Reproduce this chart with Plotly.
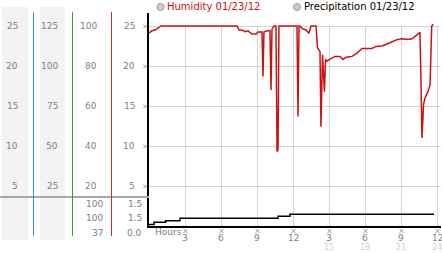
import plotly.graph_objects as go

W, H = 442, 253

# ---------------- data ----------------
hum_t = [0, 0.25, 0.5, 0.75, 1.0, 7.33, 7.5, 7.75, 8.0, 8.25, 8.58, 8.92, 9.08, 9.42, 9.5, 9.58,
         9.83, 10.08, 10.17, 10.25, 10.42, 10.58, 10.67, 10.75, 10.83, 12.33, 12.42, 12.5, 12.58,
         12.75, 13.08, 13.33, 13.5, 13.92, 14.04, 14.25, 14.33, 14.46, 14.62, 14.71, 14.83, 15.0,
         15.5, 15.92, 16.17, 16.42, 16.92, 17.33, 17.75, 18.0, 18.58, 18.92, 19.42, 20.08, 20.67,
         21.08, 21.58, 21.92, 22.42, 22.58, 22.67, 22.75, 22.88, 23.0, 23.25, 23.42, 23.56, 23.7]
hum_v = [24.1, 24.4, 24.5, 24.7, 25, 25, 24.5, 24.5, 24.3, 24.4, 24.0, 24.0, 24.25, 24.25, 18.7,
         24.25, 24.4, 24.4, 17.0, 24.6, 25, 25, 9.3, 9.5, 25, 25, 13.7, 25, 25, 24.7, 24.5, 24.1,
         25, 25, 22.3, 21.8, 12.4, 21.4, 16.8, 20.8, 20.6, 20.8, 21.2, 21.2, 20.8, 21.1, 21.2, 21.6,
         22.2, 22.2, 22.2, 22.45, 22.5, 22.9, 23.3, 23.4, 23.3, 23.4, 24.1, 24.2, 17.6, 11.0, 15.2,
         16.0, 16.8, 17.6, 25, 25.2]

prec_t = [0, 0.42, 1.39, 2.58, 10.75, 11.75, 23.75]
prec_v = [0.2, 0.46, 0.66, 0.96, 1.21, 1.46, 1.46]

y_ticks = [25, 20, 15, 10, 5]
col1_labels = ["25", "20", "15", "10", "5"]
col2_labels = ["125", "100", "75", "50", "25"]
col3_labels = ["100", "80", "60", "40", "20"]
col4_labels = ["25", "20", "15", "10", "5"]

stats_a = ["100", "100", "37"]
stats_b = ["1.5", "1.5", "0.0"]

x_ticks = [3, 6, 9, 12, 15, 18, 21, 24]
x_labels = ["3", "6", "9", "12", "3", "6", "9", "12"]
x_labels2 = ["", "", "", "", "15", "18", "21", "24"]

legend_items = ["Humidity 01/23/12", "Precipitation 01/23/12"]

# ---------------- helpers ----------------
def px(x):
    return x / W

def py(y):
    return 1 - y / H

X0, X1 = 149, 441
Y_TOP, Y_BOT = 13, 226
PPH = 12.0   # px per hour
PPU = 8.0    # px per unit
xr = [0, (X1 - X0) / PPH]
yr = [0, (Y_BOT - Y_TOP) / PPU]

GRAY_TXT = "#808080"
GRID = "#d4d4d4"
FONT = "DejaVu Sans"

SNAP_X = 0.5 / PPH   # half-pixel snap in data units for crisp 1px gridlines
SNAP_Y = 0.5 / PPU

def gx(t):          # hour -> pixel x
    return X0 + t * PPH + 0.5

def gy(v):          # value -> pixel y
    return Y_BOT - v * PPU + 0.5

fig = go.Figure()

# gridlines as line traces drawn before (beneath) the data lines
for v in y_ticks:
    fig.add_trace(go.Scatter(x=xr, y=[v - SNAP_Y, v - SNAP_Y], mode="lines",
                             line=dict(color=GRID, width=1), hoverinfo="skip", showlegend=False))
for t in x_ticks:
    fig.add_trace(go.Scatter(x=[t + SNAP_X, t + SNAP_X], y=[0, 25 - SNAP_Y], mode="lines",
                             line=dict(color=GRID, width=1), hoverinfo="skip", showlegend=False))

fig.add_trace(go.Scatter(x=prec_t, y=prec_v, mode="lines", line=dict(color="black", width=1.5, shape="hv"),
                         hoverinfo="skip", showlegend=False))
fig.add_trace(go.Scatter(x=hum_t, y=hum_v, mode="lines", line=dict(color="#cc1111", width=1.5),
                         hoverinfo="skip", showlegend=False))

shapes = []
# shaded label panels
for a, b in [(2, 28), (40, 65)]:
    shapes.append(dict(type="rect", xref="paper", yref="paper", x0=px(a), x1=px(b), y0=py(240), y1=py(7),
                       fillcolor="#f3f3f3", line=dict(width=0), layer="below"))
# horizontal separator in left panel
shapes.append(dict(type="line", xref="paper", yref="paper", x0=0, x1=px(X0), y0=py(197), y1=py(197),
                   line=dict(color="#a8a8a8", width=2)))
# coloured vertical separators
for xx, c in [(33.5, "#3399cc"), (72.5, "#33a033"), (111.5, "#c03030")]:
    shapes.append(dict(type="line", xref="paper", yref="paper", x0=px(xx), x1=px(xx), y0=py(236), y1=py(12),
                       line=dict(color=c, width=1)))
# legend circles
for cx in [160.5, 297]:
    shapes.append(dict(type="circle", xref="paper", yref="paper", x0=px(cx - 3.5), x1=px(cx + 3.5),
                       y0=py(10.5), y1=py(3.5), fillcolor="#cccccc", line=dict(color="#999999", width=1)))
# star tick marks (small x marks) next to the axes
for v in y_ticks:
    for dx, dy in [(-2, -2), (-2, 2)]:
        shapes.append(dict(type="line", xref="paper", yref="paper",
                           x0=px(145 + dx), x1=px(145 - dx), y0=py(gy(v) + dy),
                           y1=py(gy(v) - dy), line=dict(color="#999999", width=1)))
for t in x_ticks:
    for dx, dy in [(-2, -2), (-2, 2)]:
        shapes.append(dict(type="line", xref="paper", yref="paper",
                           x0=px(gx(t) + dx), x1=px(gx(t) - dx), y0=py(231 + dy),
                           y1=py(231 - dy), line=dict(color="#999999", width=1)))

ann = []
def label(text, xpx, y, yref="y", color=GRAY_TXT, size=9, xanchor="right", font=FONT, xref="paper"):
    ann.append(dict(text=text, x=(px(xpx) if xref == "paper" else xpx), xref=xref, y=y, yref=yref,
                    xanchor=xanchor, yanchor="middle", showarrow=False,
                    font=dict(family=font, size=size, color=color)))

for labels, right in [(col1_labels, 20), (col2_labels, 60), (col3_labels, 99), (col4_labels, 137)]:
    for v, s in zip(y_ticks, labels):
        label(s, right, v)

for i, (a, b) in enumerate(zip(stats_a, stats_b)):
    yy = py([204.3, 218.3, 232.7][i])
    label(a, 105, yy, yref="paper")
    label(b, 144, yy, yref="paper")

# x tick labels
for t, s, s2 in zip(x_ticks, x_labels, x_labels2):
    label(s, t, py(238), yref="paper", xref="x", xanchor="center")
    if s2:
        label(s2, t, py(247), yref="paper", xref="x", xanchor="center", color="#d0d0d0", size=8)
label("Hours", 153, py(232), yref="paper", xanchor="left")

# legend texts
label(legend_items[0], 165, py(7), yref="paper", color="#cc1111", size=10, xanchor="left")
label(legend_items[1], 302, py(7), yref="paper", color="#000000", size=10, xanchor="left")

fig.update_layout(
    width=W, height=H, margin=dict(l=0, r=0, t=0, b=0),
    paper_bgcolor="white", plot_bgcolor="white",
    shapes=shapes, annotations=ann, showlegend=False,
    xaxis=dict(domain=[px(X0), px(X1)], range=xr, showgrid=False, zeroline=False, showticklabels=False,
               showline=True, linecolor="black", linewidth=2, ticks=""),
    yaxis=dict(domain=[py(Y_BOT), py(Y_TOP)], range=yr, showgrid=False, zeroline=False,
               showticklabels=False, showline=True, linecolor="black", linewidth=2, ticks=""),
)

fig.write_html("out.html")
